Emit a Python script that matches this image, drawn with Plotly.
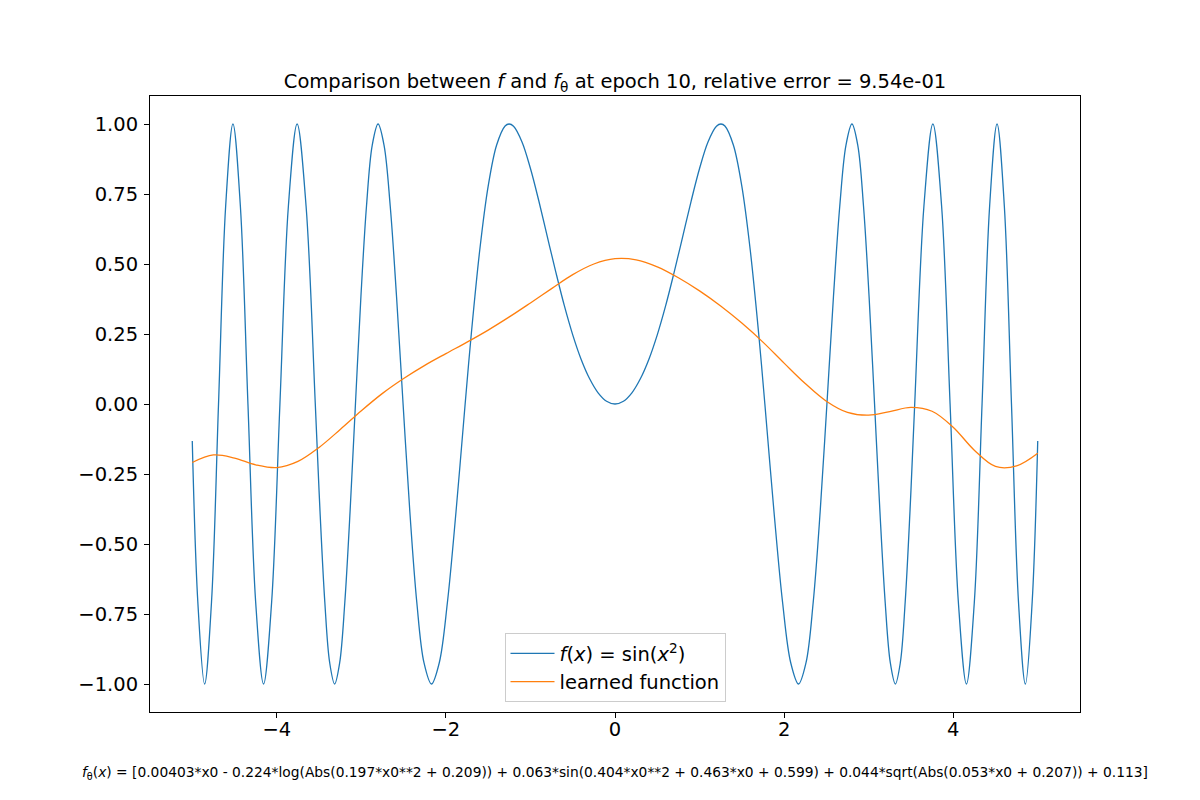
import plotly.graph_objects as go

x_target = [-5.0, -4.9343, -4.8541, -4.7725, -4.6895, -4.6050, -4.5189, -4.4312, -4.3416, -4.2502,
            -4.1568, -4.0612, -3.9633, -3.8630, -3.7599, -3.6540, -3.5449, -3.4891, -3.4324, -3.3747,
            -3.3160, -3.2562, -3.1954, -3.1333, -3.0700, -3.0054, -2.9393, -2.8717, -2.8025, -2.7316,
            -2.6587, -2.5838, -2.5066, -2.4270, -2.3447, -2.2594, -2.1708, -2.0784, -1.9817, -1.8800,
            -1.7725, -1.7, -1.6, -1.5, -1.4, -1.3, -1.2533, -1.2, -1.1, -1.0,
            -0.9, -0.8, -0.7, -0.6, -0.5, -0.4, -0.3, -0.2, -0.1,
            0.0,
            0.1, 0.2, 0.3, 0.4, 0.5, 0.6, 0.7, 0.8, 0.9,
            1.0, 1.1, 1.2, 1.2533, 1.3, 1.4, 1.5, 1.6, 1.7, 1.7725,
            1.8800, 1.9817, 2.0784, 2.1708, 2.2594, 2.3447, 2.4270, 2.5066, 2.5838, 2.6587,
            2.7316, 2.8025, 2.8717, 2.9393, 3.0054, 3.0700, 3.1333, 3.1954, 3.2562, 3.3160,
            3.3747, 3.4324, 3.4891, 3.5449, 3.6540, 3.7599, 3.8630, 3.9633, 4.0612, 4.1568,
            4.2502, 4.3416, 4.4312, 4.5189, 4.6050, 4.6895, 4.7725, 4.8541, 4.9343, 5.0]
y_target = [-0.132, -0.707, -1.0, -0.707, 0.0, 0.707, 1.0, 0.707, 0.0, -0.707,
            -1.0, -0.707, 0.0, 0.707, 1.0, 0.707, 0.0, -0.383, -0.707, -0.924,
            -1.0, -0.924, -0.707, -0.383, 0.0, 0.383, 0.707, 0.924, 1.0, 0.924,
            0.707, 0.383, 0.0, -0.383, -0.707, -0.924, -1.0, -0.924, -0.707, -0.383,
            0.0, 0.249, 0.549, 0.778, 0.925, 0.993, 1.0, 0.992, 0.936, 0.841,
            0.724, 0.597, 0.471, 0.352, 0.247, 0.159, 0.090, 0.040, 0.010,
            0.0,
            0.010, 0.040, 0.090, 0.159, 0.247, 0.352, 0.471, 0.597, 0.724,
            0.841, 0.936, 0.992, 1.0, 0.993, 0.925, 0.778, 0.549, 0.249, 0.0,
            -0.383, -0.707, -0.924, -1.0, -0.924, -0.707, -0.383, 0.0, 0.383, 0.707,
            0.924, 1.0, 0.924, 0.707, 0.383, 0.0, -0.383, -0.707, -0.924, -1.0,
            -0.924, -0.707, -0.383, 0.0, 0.707, 1.0, 0.707, 0.0, -0.707, -1.0,
            -0.707, 0.0, 0.707, 1.0, 0.707, 0.0, -0.707, -1.0, -0.707, -0.132]

# learned function after epoch 10
x_learned = [-5.0, -4.75, -4.5, -4.25, -4.0, -3.75, -3.5, -3.25, -3.0, -2.75,
             -2.5, -2.25, -2.0, -1.75, -1.5, -1.25, -1.0, -0.75, -0.5, -0.25,
             0.0, 0.25, 0.5, 0.75, 1.0, 1.25, 1.5, 1.75, 2.0, 2.25,
             2.5, 2.75, 3.0, 3.25, 3.5, 3.75, 4.0, 4.25, 4.5, 4.75, 5.0]
y_learned = [-0.209, -0.182, -0.193, -0.217, -0.227, -0.205, -0.155, -0.091, -0.024, 0.038,
             0.091, 0.138, 0.180, 0.221, 0.264, 0.311, 0.361, 0.412, 0.462, 0.500,
             0.519, 0.515, 0.490, 0.451, 0.404, 0.350, 0.289, 0.221, 0.146, 0.073,
             0.010, -0.030, -0.040, -0.027, -0.012, -0.026, -0.083, -0.165, -0.223, -0.221, -0.176]

x_ticks = [-4, -2, 0, 2, 4]
y_ticks = [-1.0, -0.75, -0.5, -0.25, 0.0, 0.25, 0.5, 0.75, 1.0]

epoch = 10
rel_error = 0.954
formula = ("[0.00403*x0 - 0.224*log(Abs(0.197*x0**2 + 0.209)) + 0.063*sin(0.404*x0**2 + 0.463*x0 + 0.599)"
           " + 0.044*sqrt(Abs(0.053*x0 + 0.207)) + 0.113]")

FONT = "DejaVu Sans"

fig = go.Figure()
fig.add_trace(go.Scatter(x=x_target, y=y_target, mode="lines",
                         line=dict(color="#1f77b4", width=1.3, shape="spline"),
                         name="<i>f</i>(<i>x</i>) = sin(<i>x</i><sup>2</sup>)"))
fig.add_trace(go.Scatter(x=x_learned, y=y_learned, mode="lines",
                         line=dict(color="#ff7f0e", width=1.3, shape="spline"),
                         name="learned function"))

# page body adds 8px, so margins are pulled in by that much
fig.update_layout(
    width=1200, height=800,
    margin=dict(l=142, r=128, t=88, b=96),
    plot_bgcolor="white", paper_bgcolor="white",
    font=dict(family=FONT, color="black", size=19),
    title=dict(text=f"Comparison between <i>f</i> and <i>f</i><sub>θ</sub> at epoch {epoch}, "
                    f"relative error = {rel_error:.2e}",
               x=0.5, xref="paper", xanchor="center", y=1 - 73 / 800, yanchor="middle",
               font=dict(size=19.5)),
    legend=dict(x=0.5, y=0.016, xanchor="center", yanchor="bottom",
                bgcolor="rgba(255,255,255,0.8)", bordercolor="#cccccc", borderwidth=1,
                font=dict(size=19.5), tracegroupgap=0, itemwidth=44),
    showlegend=True,
)
fig.update_xaxes(range=[-5.5, 5.5], tickvals=x_ticks, ticks="outside", ticklen=5, tickwidth=1,
                 tickcolor="black", showline=True, linecolor="black", linewidth=1, mirror=True,
                 showgrid=False, zeroline=False, tickfont=dict(size=19.5), ticklabelstandoff=-5)
fig.update_yaxes(range=[-1.1, 1.1], tickvals=y_ticks, tickformat=".2f", ticks="outside", ticklen=5,
                 tickwidth=1, tickcolor="black", showline=True, linecolor="black", linewidth=1,
                 mirror=True, showgrid=False, zeroline=False, tickfont=dict(size=19.5),
                 ticklabelstandoff=2)

fig.add_annotation(text="<i>f</i><sub>θ</sub>(<i>x</i>) = " + formula,
                   xref="paper", yref="paper", x=0.5, y=-0.099, xanchor="center", yanchor="middle",
                   showarrow=False, font=dict(size=13.8))

fig.write_html("out.html")
